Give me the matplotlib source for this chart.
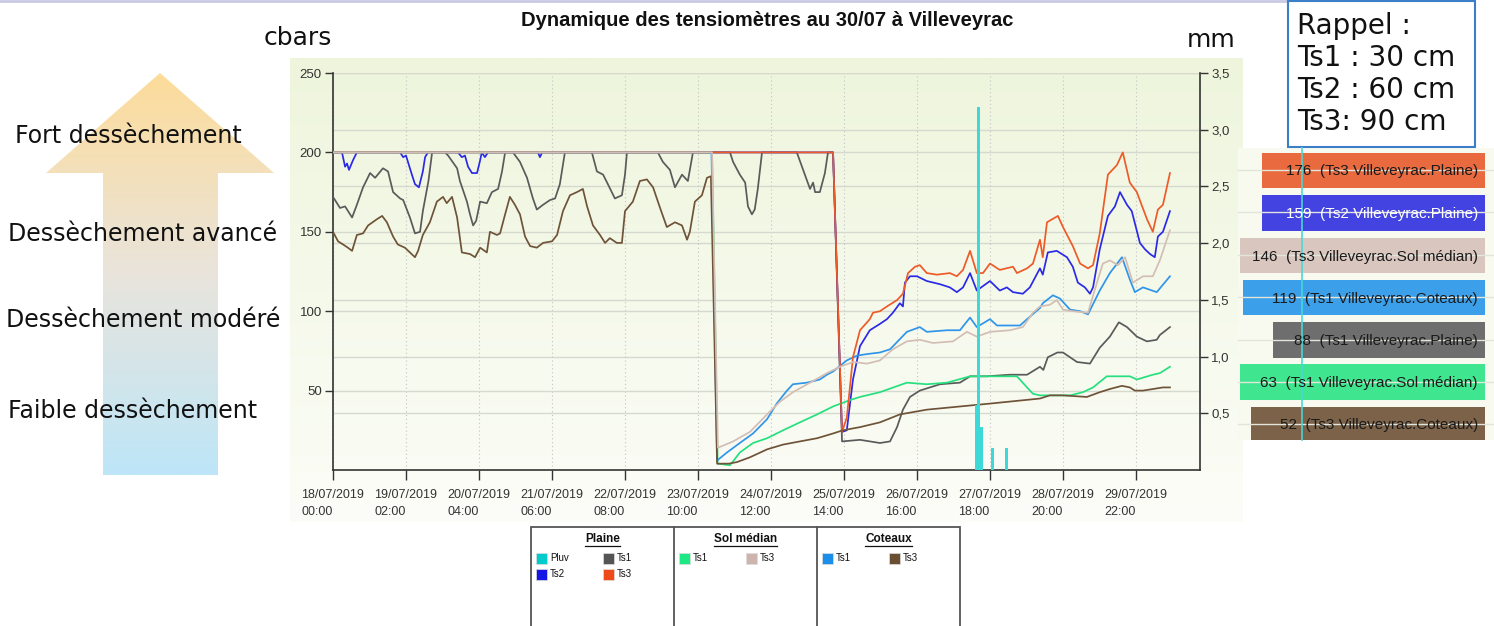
"""
Dynamique des tensiomètres au 30/07 à Villeveyrac
Recréation du visuel (courbes tensiomètres + pluviométrie)
"""

import numpy as np
import matplotlib
matplotlib.use('Agg')
import matplotlib.pyplot as plt
import matplotlib.transforms as mtransforms
from matplotlib.patches import Polygon, Rectangle
from matplotlib.colors import LinearSegmentedColormap

W, H = 1494, 626
SANS = ['Liberation Sans', 'DejaVu Sans']
VERDANA = ['DejaVu Sans']

# ---------------- données (heures depuis le 18/07/2019 00:00, cbars) ----------------
ts1_plaine_h = [0, 2.5, 4.3, 6.8, 8.5, 10.7, 13.2, 15, 17.8, 19.6, 21.4, 23.9, 25, 27.4, 29.2, 31, 32, 34,
                35.3, 39.9, 41, 44.2, 45.2, 47.7, 48.8, 49.9, 51, 52.4, 54.8, 56.6, 58.8, 60.2, 61.3, 64.1,
                66.6, 69.1, 71.2, 72.6, 74.8, 77.3, 79.1, 80.8, 82.6, 92.2, 94, 96.2, 97.9, 100.4, 102.9, 104,
                104.7, 115.7, 117.5, 120, 121.8, 124.3, 126.4, 128.2, 141.4, 142.5, 144.9, 146.8, 147.8, 149.2,
                150.2, 151.3, 152.8, 165.2, 169.9, 171, 171.7, 173.4, 175.2, 176.3, 178.1, 181.3, 187.7, 194.8,
                198.4, 200.9, 203, 205.5, 209, 216.2, 223.3, 226.9, 232.9, 241, 247.2, 251.8, 253, 254.6, 258,
                260, 265, 269.6, 273.1, 276.7, 279.9, 282.8, 286.3, 289.9, 293.4, 294.5, 298.1]
ts1_plaine_v = [172, 165, 166, 159, 167, 178, 187, 184, 190, 188, 175, 171, 170, 159, 149, 150, 163, 182,
                200, 200, 198, 190, 182, 169, 161, 154, 157, 169, 168, 175, 177, 188, 200, 200,
                194, 184, 171, 164, 167, 170, 171, 180, 200, 200, 188, 186, 180, 171, 173, 186,
                200, 200, 194, 189, 178, 186, 182, 200, 200, 194, 186, 181, 166, 161,
                164, 177, 200, 200, 177, 181, 175, 175, 187, 200, 200, 18, 19, 17,
                18, 27, 38, 46, 50, 54, 55, 59, 59, 60, 60, 65, 63, 71, 74,
                74, 68, 67, 77, 84, 93, 90, 84, 81, 82, 85, 90]

ts2_plaine_h = [0, 3.2, 4.3, 5.0, 5.7, 7.1, 8.5, 23.9, 25, 26, 28.1, 29.2, 30.6, 32, 32.8, 33.8, 44.5, 45.9,
                47, 48.1, 49.5, 51.3, 52.4, 53, 54.1, 55.2, 73, 73.7, 74.5, 178.1, 181.3, 183, 185.2, 187.7,
                191.2, 194.8, 197.3, 199.4, 201.9, 203, 203.7, 205.5, 208, 211.5, 216.2, 219.7, 222.2, 224.4,
                226.9, 229.3, 234, 237.5, 240, 242.2, 245.7, 248.2, 251.8, 252.8, 254.6, 257.8, 261.4, 263.5,
                265.3, 267.8, 269.6, 270.7, 273.1, 276, 278.5, 280.3, 282.8, 284.5, 287.4, 289.2, 291, 292.7,
                293.8, 295.6, 298.1]
ts2_plaine_v = [200, 200, 191, 193, 189, 195, 200, 200, 197, 198, 186, 180, 178, 188, 197, 200, 200, 197,
                198, 191, 187, 187, 195, 200, 197, 200, 200, 197, 200, 200, 24, 25, 57, 78,
                88, 92, 95, 99, 105, 103, 118, 122, 122, 119, 117, 115, 112, 115,
                124, 113, 119, 113, 115, 112, 111, 115, 127, 123, 137, 138, 134, 128,
                118, 115, 111, 115, 139, 160, 166, 175, 167, 163, 143, 139, 136, 134,
                147, 150, 163]

ts3_plaine_h = [0, 178.1, 181.3, 183, 185.2, 187.7, 191.2, 192.3, 194.8, 197.3, 200.9, 203, 204.8, 207.3,
                209, 211.5, 215.1, 219.7, 222.2, 224.4, 226.9, 229.3, 231.5, 234, 237.5, 242.2, 243.6, 247.2,
                249.3, 251.8, 252.8, 254.3, 258.2, 260, 263.5, 266.1, 268.9, 270.7, 273.1, 276, 279.2, 281.3,
                283.8, 286.3, 289.9, 292, 293.8, 295.6, 298.1]
ts3_plaine_v = [200, 200, 24, 33, 71, 88, 95, 99, 100, 103, 107, 111, 124, 128,
                129, 124, 123, 124, 122, 126, 138, 124, 124, 130, 126, 128, 124, 127,
                130, 145, 134, 156, 160, 153, 141, 130, 127, 129, 149, 186, 192, 200,
                181, 175, 158, 150, 164, 167, 187]

ts1_sol_h = [0, 135, 137, 141.4, 144.9, 149.6, 154.6, 160.3, 166.3, 172.4, 178.1, 184.1, 187.7, 194.8,
             204.4, 211.5, 218.7, 226.9, 235, 243.6, 247.2, 249.3, 251.8, 254.3, 262.5, 267.1, 270.7, 275.6,
             279.2, 283.8, 286.3, 292, 294.5, 298.1]
ts1_sol_v = [200, 200, 4, 3, 11, 17, 20, 25, 30, 35, 40, 44, 46, 49,
             55, 54, 55, 59, 59, 59, 52, 48, 47, 47, 47, 49, 52, 59,
             59, 59, 57, 60, 61, 65]

ts3_sol_h = [0, 135, 137.1, 142.5, 148.5, 154.6, 159.2, 163.8, 169.9, 175.9, 180.6, 185.2, 190.2, 194.8,
             199.4, 204.4, 209, 213.7, 220.8, 225.8, 229.3, 234, 241.1, 245.7, 249.3, 251.8, 255.3, 257.8,
             260, 263.5, 268.9, 272.1, 274.2, 276.7, 279.6, 282.1, 284.9, 288.5, 292, 294.5, 298.1]
ts3_sol_v = [200, 200, 14, 18, 24, 35, 43, 49, 55, 61, 65, 68, 67, 69,
             76, 81, 82, 80, 81, 87, 84, 87, 88, 90, 99, 103, 104, 107,
             101, 100, 99, 118, 130, 132, 129, 134, 118, 122, 122, 132, 151]

ts1_cot_h = [0, 134.8, 136.8, 140.3, 144.9, 149.6, 154.6, 158.1, 161.7, 163.8, 168.8, 173.4, 175.9, 178.1,
             183, 186.6, 190.2, 194.8, 198.4, 204.4, 209, 211.5, 218.7, 223.3, 226.9, 229.3, 234, 236.5,
             244.7, 247.2, 251.8, 252.8, 256.4, 258.9, 262.5, 266.1, 268.9, 273.1, 276.7, 281, 283.8, 285.6,
             288.5, 293.4, 298.1]
ts1_cot_v = [200, 200, 6, 11, 17, 23, 32, 42, 50, 54, 55, 57, 60, 62,
             69, 72, 73, 74, 76, 87, 90, 87, 88, 88, 96, 90, 95, 91,
             91, 95, 102, 105, 110, 108, 101, 100, 98, 113, 124, 134, 120, 112,
             115, 112, 122]

ts3_cot_h = [0, 1.8, 3.6, 5.3, 6.8, 8.5, 10.7, 12.5, 15.7, 17.5, 19.2, 21.4, 23.1, 25.6, 27.4, 29.2, 30.3,
             32, 34.5, 37, 39.2, 40.5, 42.4, 44.2, 45.9, 48.8, 50.6, 52.4, 54.8, 55.9, 58.4, 59.5, 61.3, 63,
             64.8, 66.6, 68.4, 70.2, 72.6, 74.8, 78, 79.8, 81.9, 84.4, 86.9, 89, 90.5, 92.6, 95.1, 96.9,
             98.6, 101.1, 102.9, 104, 106.8, 109.3, 111.8, 114, 116.5, 118.9, 121.8, 124.3, 126.1, 127.1,
             128.9, 131.4, 133.2, 134.6, 136.8, 141, 143.9, 148.5, 154.6, 160.3, 166.3, 172.4, 178.1, 181.6,
             187.7, 194.8, 201.9, 211.5, 223.3, 235, 251.8, 255.3, 260, 268.5, 273.1, 276.7, 281, 283.8,
             285.6, 288.5, 295.6, 298.1]
ts3_cot_v = [150, 144, 142, 140, 138, 148, 149, 154, 158, 160, 156, 147, 142, 140, 137, 134, 138,
             148, 156, 169, 172, 168, 172, 159, 137, 136, 134, 140, 137, 150, 148, 149, 161, 172,
             167, 161, 147, 141, 140, 143, 144, 148, 163, 173, 175, 177, 166, 154, 148, 143,
             146, 143, 143, 163, 169, 182, 183, 178, 165, 153, 156, 154, 145, 150,
             169, 173, 184, 185, 4, 4, 5, 8, 13, 16, 18, 20, 23, 25,
             27, 30, 35, 38, 40, 42, 45, 47, 47, 46, 49, 51, 53, 52,
             50, 50, 52, 52]

# pluviométrie (mm)
pluv_h = [229, 230, 231, 235, 240]
pluv_mm = [0.57, 3.2, 0.38, 0.19, 0.19]

x_ticks = np.arange(0, 287, 26)
x_tick_labels = ['18/07/2019\n00:00', '19/07/2019\n02:00', '20/07/2019\n04:00', '21/07/2019\n06:00',
                 '22/07/2019\n08:00', '23/07/2019\n10:00', '24/07/2019\n12:00', '25/07/2019\n14:00',
                 '26/07/2019\n16:00', '27/07/2019\n18:00', '28/07/2019\n20:00', '29/07/2019\n22:00']
cbar_ticks = [50, 100, 150, 200, 250]
mm_ticks = [0.5, 1.0, 1.5, 2.0, 2.5, 3.0, 3.5]
mm_tick_labels = ['0,5', '1,0', '1,5', '2,0', '2,5', '3,0', '3,5']

# étiquettes de dernière valeur
last_values = [176, 159, 146, 119, 88, 63, 52]
last_names = ['Ts3 Villeveyrac.Plaine', 'Ts2 Villeveyrac.Plaine', 'Ts3 Villeveyrac.Sol médian',
              'Ts1 Villeveyrac.Coteaux', 'Ts1 Villeveyrac.Plaine', 'Ts1 Villeveyrac.Sol médian',
              'Ts3 Villeveyrac.Coteaux']

dryness_levels = ['Fort dessèchement', 'Dessèchement avancé', 'Dessèchement modéré', 'Faible dessèchement']
rappel_lines = ['Rappel :', 'Ts1 : 30 cm', 'Ts2 : 60 cm', 'Ts3: 90 cm']

legend_groups = ['Plaine', 'Sol médian', 'Coteaux']
legend_entries = [[('Pluv', '#00cccc'), ('Ts1', '#555555'), ('Ts2', '#1515e6'), ('Ts3', '#ee4a1a')],
                  [('Ts1', '#1de884'), ('Ts3', '#cdb4ac')],
                  [('Ts1', '#1a8ee8'), ('Ts3', '#6b4f33')]]

# ---------------- figure ----------------
fig = plt.figure(figsize=(W / 100, H / 100), dpi=100)
fig.patch.set_facecolor('white')

# fond (coordonnées pixel)
bg = fig.add_axes([0, 0, 1, 1], zorder=0)
bg.axis('off')
grad = np.linspace(0, 1, 256)[:, None]
panel_cmap = LinearSegmentedColormap.from_list('panel', ['#eef5dc', '#fcfdf8'])
bg.imshow(grad, cmap=panel_cmap, extent=(290, 1243, 522, 58), aspect='auto')

# flèche dégradée
arrow = Polygon([(103, 475), (103, 173), (46, 173), (160, 73), (274, 173), (218, 173), (218, 475)],
                closed=True, facecolor='none', edgecolor='none')
bg.add_patch(arrow)
arrow_cmap = LinearSegmentedColormap.from_list('arrow', ['#fddc9a', '#e9e4dc', '#bde6f8'])
im = bg.imshow(grad, cmap=arrow_cmap, extent=(46, 274, 475, 73), aspect='auto')
im.set_clip_path(arrow)
bg.plot([0, 1290], [1, 1], color='#c9c9e4', lw=2)
bg.set_xlim(0, W)
bg.set_ylim(H, 0)

for txt, (x, y) in zip(dryness_levels, [(15, 136), (8, 234), (6, 320), (8, 411)]):
    bg.text(x, y, txt, fontsize=17, family=VERDANA, ha='left', va='center', color='#111')

bg.text(298, 38, 'cbars', fontsize=18, family=VERDANA, ha='center', va='center', color='#111')
bg.text(1211, 40, 'mm', fontsize=18, family=VERDANA, ha='center', va='center', color='#111')
bg.text(767, 20, 'Dynamique des tensiomètres au 30/07 à Villeveyrac', fontsize=14.5, fontweight='bold',
        family=SANS, ha='center', va='center', color='#111')

# ---------------- graphique principal ----------------
ax = fig.add_axes([333 / W, 1 - 470 / H, (1200 - 333) / W, (470 - 73) / H], zorder=2)
ax.patch.set_alpha(0)
axr = ax.twinx()
axr.set_zorder(3)
axr.patch.set_alpha(0)

series = [
    (ts1_plaine_h, ts1_plaine_v, '#5a5a5a'),
    (ts2_plaine_h, ts2_plaine_v, '#2a2ae6'),
    (ts1_sol_h, ts1_sol_v, '#25e07e'),
    (ts1_cot_h, ts1_cot_v, '#2e95ea'),
    (ts3_plaine_h, ts3_plaine_v, '#ee5a28'),
    (ts3_cot_h, ts3_cot_v, '#6e5338'),
    (ts3_sol_h, ts3_sol_v, '#d3beb5'),
]
for xs, ys, c in series:
    ax.plot(xs, ys, color=c, lw=1.25, zorder=3)

axr.bar(pluv_h, pluv_mm, width=1.0, color='#3dd8d8', zorder=3)

# grilles
ax.set_yticks(cbar_ticks)
ax.set_xticks(x_ticks)
ax.set_xticklabels(x_tick_labels)
ax.yaxis.grid(True, color='#d6d9cd', lw=1, zorder=0)
ax.xaxis.grid(True, color='#c4c4c4', lw=0.8, linestyle=(0, (1, 2.5)), zorder=0)
ax.set_axisbelow(True)
trans = mtransforms.blended_transform_factory(ax.transAxes, axr.transData)
for mm in mm_ticks:
    ax.plot([0, 1], [mm, mm], transform=trans, color='#d6d9cd', lw=1, zorder=0.5)
ax.set_xlim(0, 308.8)
ax.set_ylim(0, 250)
axr.set_ylim(0, 3.5)

axr.set_yticks(mm_ticks)
axr.set_yticklabels(mm_tick_labels)

for a in (ax, axr):
    a.spines['top'].set_visible(False)
    for s in ('left', 'bottom', 'right'):
        a.spines[s].set_color('#333333')
        a.spines[s].set_linewidth(1.2)
ax.spines['right'].set_visible(False)
axr.spines['left'].set_visible(False)
axr.spines['bottom'].set_visible(False)

ax.tick_params(axis='y', direction='out', length=6, width=1, colors='#333333', labelsize=9.5, pad=2)
ax.tick_params(axis='x', direction='out', length=7, width=1, colors='#333333', labelsize=9, pad=7)
axr.tick_params(axis='y', direction='out', length=6, width=1, colors='#333333', labelsize=9.5, pad=2)
for t in ax.get_yticklabels() + axr.get_yticklabels():
    t.set_family(SANS)
for t in ax.get_xticklabels():
    t.set_family(SANS)
    t.set_multialignment('left')
    t.set_linespacing(1.55)

# ---------------- surcouche (étiquettes, légende, rappel) ----------------
ov = fig.add_axes([0, 0, 1, 1], zorder=5)
ov.axis('off')
ov.set_xlim(0, W)
ov.set_ylim(H, 0)

# bout de graphique en arrière-plan des étiquettes
ov.add_patch(Rectangle((1238, 148), 256, 292, facecolor='#f8faf0', edgecolor='none'))
for gy in [170, 212, 255, 297, 340, 382, 424]:
    ov.plot([1238, 1494], [gy, gy], color='#e2e5da', lw=1)

box_specs = [(1262, 153, 188, '#e96a3e', '#1a1a1a'),
             (1262, 195, 231, '#4343e2', 'white'),
             (1240, 238, 273, '#d8c6bf', '#1a1a1a'),
             (1243, 280, 315, '#3c9fe9', '#1a1a1a'),
             (1273, 322, 358, '#6e6e6e', '#1a1a1a'),
             (1240, 364, 400, '#40e68f', '#1a1a1a'),
             (1251, 407, 440, '#7b6248', '#1a1a1a')]
for val, name, (x0, y0, y1, fc, tc) in zip(last_values, last_names, box_specs):
    ov.add_patch(Rectangle((x0, y0), 1485 - x0, y1 - y0, facecolor=fc, edgecolor='none'))
    ov.text(1478, (y0 + y1) / 2 + 1, f'{val}  ({name})', fontsize=11, family=SANS,
            ha='right', va='center', color=tc)
ov.plot([1302, 1302], [148, 440], color='#48d8d8', lw=1.3, alpha=0.9)

# rappel
ov.add_patch(Rectangle((1288, 1), 187, 146, facecolor='white', edgecolor='#3a7fc8', lw=1.5))
for i, line in enumerate(rappel_lines):
    ov.text(1297, 26 + 32 * i, line, fontsize=20, family=VERDANA, ha='left', va='center', color='#111')

# légende
ov.add_patch(Rectangle((531, 527), 429, 120, facecolor='white', edgecolor='#555555', lw=1.3))
for xd in (674, 817):
    ov.plot([xd, xd], [527, 626], color='#555555', lw=1.3)
col_left = [531, 674, 817]
fig.canvas.draw()
renderer = fig.canvas.get_renderer()
inv = ov.transData.inverted()
for gi, (grp, entries) in enumerate(zip(legend_groups, legend_entries)):
    cx = col_left[gi] + 71.5
    t = ov.text(cx, 539, grp, fontsize=8.5, fontweight='bold', family=SANS, ha='center', va='center',
                color='#111')
    bb = t.get_window_extent(renderer)
    (xa, _), (xb, _) = inv.transform([(bb.x0, bb.y0), (bb.x1, bb.y0)])
    ov.plot([xa, xb], [546, 546], color='#111', lw=0.9)
    for ei, (lab, col) in enumerate(entries):
        sx = col_left[gi] + 5 + 67 * (ei % 2)
        sy = 558 + 16 * (ei // 2)
        ov.add_patch(Rectangle((sx, sy - 5.5), 10.5, 11, facecolor=col, edgecolor='#dddddd', lw=0.5))
        ov.text(sx + 14, sy, lab, fontsize=7, family=SANS, ha='left', va='center', color='#111')

fig.savefig('out.png', dpi=100)
